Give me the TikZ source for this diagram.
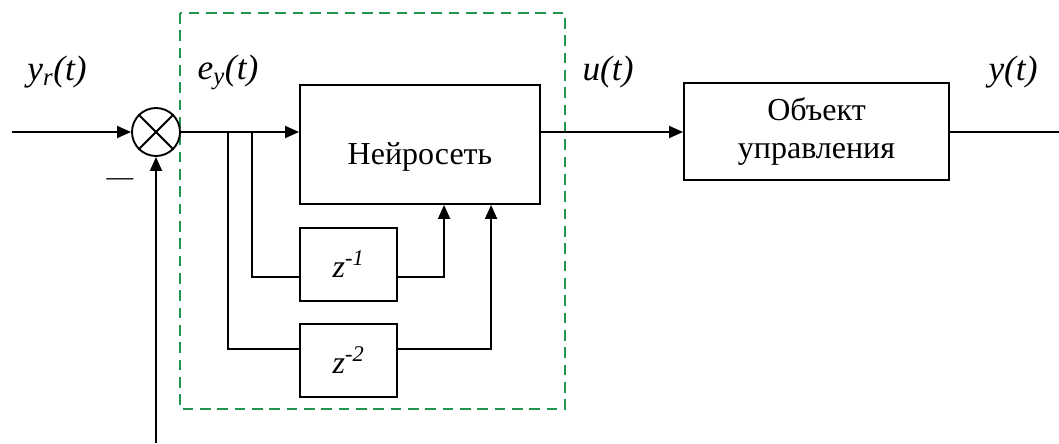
\documentclass[tikz,border=0pt]{standalone}
\usepackage{fontspec}
\setmainfont{Liberation Serif}
\usetikzlibrary{arrows.meta,calc}

\begin{document}
\begin{tikzpicture}[x=0.75pt,y=0.75pt,yscale=-1,xscale=1,
    sig/.style={line width=1.4pt},
    arr/.style={sig,-{Triangle[length=10.5pt,width=9pt]}},
    blk/.style={draw,sig,inner sep=0pt,font=\fontsize{24}{29}\selectfont},
    lbl/.style={inner sep=0.75pt,font=\fontsize{26.5}{30}\selectfont\itshape}]
    \useasboundingbox (0,0) rectangle (1059,443); %set diagram size of 1059 x 443

    %Shape: Dashed frame [neuro controller]
    \draw [color={rgb, 255:red, 34; green, 150; blue, 80 }, line width=1.4pt, dash pattern={on 8pt off 5pt}] (180,13) rectangle (565,409);

    %Shape: Sum circle
    \node [draw, circle, sig, minimum size=36pt, inner sep=0pt] (sum) at (156,132) {};
    \draw [sig] (sum.north west) -- (sum.south east) (sum.north east) -- (sum.south west);

    %Shape: Blocks
    \node [blk, minimum width=180pt, minimum height=89.25pt, text height=30pt, text depth=0pt] (net) at (420,144.5) {Нейросеть};
    \node [blk, minimum width=72.75pt, minimum height=54.75pt] (z1) at (348.5,264.5) {\itshape z\textsuperscript{-1}};
    \node [blk, minimum width=72.75pt, minimum height=54.75pt] (z2) at (348.5,360.5) {\itshape z\textsuperscript{-2}};
    \node [blk, minimum width=198.75pt, minimum height=72.75pt, align=center] (plant) at (816.5,131.5) {Объект\\управления};

    %Free ends and branch points
    \coordinate (in) at (12,132);
    \coordinate (fb) at (156,443);
    \coordinate (out) at (1059,132);
    \coordinate (b2) at (228,132);
    \coordinate (b1) at (252,132);

    %Connectors
    \draw [arr] (in) -- (sum.west);
    \draw [arr] (fb) -- (sum.south);
    \draw [arr] (sum.east) -- (net.west |- sum.east);
    \draw [sig] (b1) |- ($(z1.west)+(0,12.5)$);
    \draw [sig] (b2) |- ($(z2.west)+(0,-11.5)$);
    \draw [arr] ($(z1.east)+(0,12.5)$) -| ($(net.south west)+(145,0)$);
    \draw [arr] ($(z2.east)+(0,-11.5)$) -| ($(net.south west)+(192,0)$);
    \draw [arr] (net.east |- sum.east) -- (plant.west |- sum.east);
    \draw [sig] (plant.east |- out) -- (out);

    % Text Node
    \node [lbl] (yr) at (57,72) {y\textsubscript{r}(t)};
    % Text Node
    \node [lbl] (ey) at (228,72) {e\textsubscript{y}(t)};
    % Text Node
    \node [lbl] (ut) at (608,72) {u(t)};
    % Text Node
    \node [lbl] (yt) at (1013,72) {y(t)};
    % Text Node
    \node [inner sep=0pt, font=\fontsize{20}{20}\selectfont] (minus) at (120,182) {—};

\end{tikzpicture}
\end{document}
